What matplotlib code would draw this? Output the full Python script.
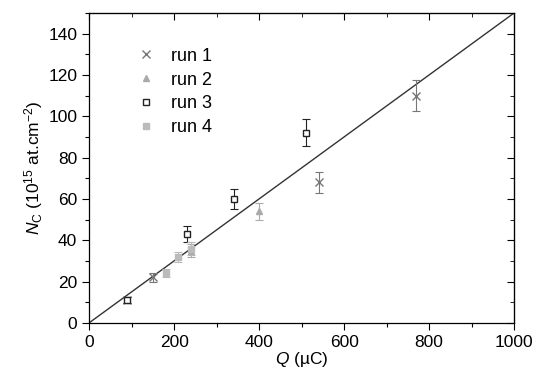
import matplotlib
matplotlib.use('Agg')
import matplotlib.pyplot as plt
import numpy as np
from matplotlib.ticker import MultipleLocator
from matplotlib.lines import Line2D

plt.rcParams['font.family'] = ['Liberation Sans', 'DejaVu Sans']
plt.rcParams['mathtext.fontset'] = 'custom'
plt.rcParams['mathtext.rm'] = 'Liberation Sans'
plt.rcParams['mathtext.it'] = 'Liberation Sans:italic'

# data
run1_q = [90, 150, 540, 770]
run1_n = [11, 22, 68, 110]
run1_e = [1.5, 2, 5, 7.5]

run2_q = [240, 400]
run2_n = [35, 54]
run2_e = [3, 4]

run3_q = [90, 230, 340, 510]
run3_n = [11, 43, 60, 92]
run3_e = [1.5, 4, 5, 6.5]

run4_q = [180, 210, 240]
run4_n = [24, 32, 36]
run4_e = [2, 2.5, 3]

fit_q = [0, 1000]
fit_n = [0, 150]

fig = plt.figure(figsize=(5.43, 3.79), dpi=100)
ax = fig.add_axes([0.164, 0.148, 0.783, 0.818])

ax.plot(fit_q, fit_n, color='#333333', lw=1.0)

eb = dict(ls='none', capsize=3, elinewidth=0.8, capthick=0.8)
styles = [
    (run1_q, run1_n, run1_e, 'x', 6, '#777777', '#777777', 'run 1'),
    (run2_q, run2_n, run2_e, '^', 5, '#aaaaaa', '#aaaaaa', 'run 2'),
    (run3_q, run3_n, run3_e, 's', 5, '#222222', 'white', 'run 3'),
    (run4_q, run4_n, run4_e, 's', 5, '#bbbbbb', '#bbbbbb', 'run 4'),
]
handles = []
for q, n, e, m, ms, c, fc, lab in styles:
    ax.errorbar(q, n, yerr=e, marker=m, ms=ms, color=c, mfc=fc, **eb)
    handles.append(Line2D([], [], ls='none', marker=m, ms=ms, color=c, mfc=fc, label=lab))

ax.set_xlim(0, 1000)
ax.set_ylim(0, 150)
ax.set_yticks(np.arange(0, 141, 20))
ax.xaxis.set_major_locator(MultipleLocator(200))
ax.xaxis.set_minor_locator(MultipleLocator(100))
ax.yaxis.set_minor_locator(MultipleLocator(10))
ax.tick_params(which='both', direction='out', labelsize=12.5, width=0.8)
ax.tick_params(which='major', length=5)
ax.tick_params(which='minor', length=3)

# inward ticks on the top and right
ax2 = ax.secondary_xaxis('top')
ax2.xaxis.set_major_locator(MultipleLocator(200))
ax2.xaxis.set_minor_locator(MultipleLocator(100))
ax2.tick_params(which='both', direction='in', labeltop=False)
ax2.tick_params(which='major', length=5)
ax2.tick_params(which='minor', length=3)
ay2 = ax.secondary_yaxis('right')
ay2.set_yticks(np.arange(0, 141, 20))
ay2.yaxis.set_minor_locator(MultipleLocator(10))
ay2.tick_params(which='both', direction='in', labelright=False)
ay2.tick_params(which='major', length=5)
ay2.tick_params(which='minor', length=3)

for s in ax.spines.values():
    s.set_linewidth(0.9)

ax.set_xlabel('$Q$ (\u00b5C)', fontsize=12.5, labelpad=0)
ax.set_ylabel('$N_{\\rm C}$ (10$^{15}$ at.cm$^{-2}$)', fontsize=12.5, labelpad=2)

ax.legend(handles=handles, loc='upper left', bbox_to_anchor=(0.07, 0.94), frameon=False,
          fontsize=13, handletextpad=0.8, labelspacing=0.38, handlelength=1.2)

fig.savefig('out.png', dpi=100)
